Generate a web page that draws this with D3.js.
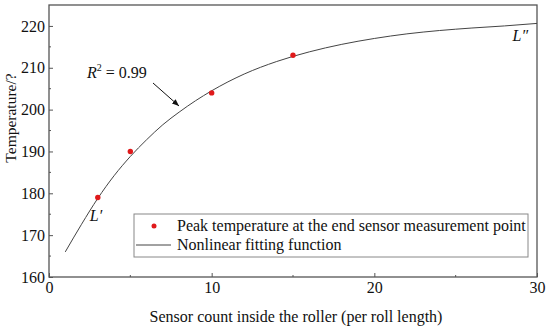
<!DOCTYPE html>
<html>
<head>
<meta charset="utf-8">
<script src="https://cdn.jsdelivr.net/npm/d3@7"></script>
<style>
  body { margin: 0; background: #fff; }
  svg text { font-family: 'Liberation Serif', 'Times New Roman', Times, 'DejaVu Serif', serif !important; fill: #111; }
</style>
</head>
<body>
<div id="chart-area"></div>
<script>
// Data
var sensorCounts = [3, 5, 10, 15];
var peakTemps = [179, 190, 204, 213];

var fitX = [1, 2, 3, 4, 5, 6, 7, 8, 9, 10, 12, 14, 16, 18, 20, 22, 24, 26, 28, 30];
var fitY = [166, 172.6, 178.8, 184.2, 188.8, 192.8, 196.4, 199.4, 202.1, 204.5,
            208.5, 211.5, 213.8, 215.6, 217.0, 218.1, 218.9, 219.5, 220.0, 220.6];

var xTicks = [0, 10, 20, 30];
var yTicks = [160, 170, 180, 190, 200, 210, 220];
var legendLabels = ["Peak temperature at the end sensor measurement point", "Nonlinear fitting function"];

var margin = { left: 49, right: 13, top: 5, bottom: 53 };
var width = 550 - margin.left - margin.right,
    height = 330 - margin.top - margin.bottom;

var svg = d3.select("#chart-area")
    .append("svg")
        .attr("width", 550)
        .attr("height", 330)
        .style("font-family", "'Liberation Serif', serif");
var g = svg.append("g")
        .attr("transform", "translate(" + margin.left + "," + margin.top + ")");

// Scales
var x = d3.scaleLinear().domain([0, 30]).range([0, width]);
var y = d3.scaleLinear().domain([160, 225]).range([height, 0]);

var axisColor = "#555";

// Minor ticks
g.selectAll(".xminor").data([5, 15, 25]).enter().append("line")
    .attr("x1", function(d){ return x(d); }).attr("x2", function(d){ return x(d); })
    .attr("y1", height).attr("y2", height - 2)
    .attr("stroke", axisColor);
g.selectAll(".yminor").data([165, 175, 185, 195, 205, 215]).enter().append("line")
    .attr("y1", function(d){ return y(d); }).attr("y2", function(d){ return y(d); })
    .attr("x1", 0).attr("x2", 2)
    .attr("stroke", axisColor);

// X Axis
var xAxisCall = d3.axisBottom(x).tickValues(xTicks).tickSizeInner(-4).tickSizeOuter(0).tickPadding(5);
var xAxis = g.append("g")
    .attr("transform", "translate(0," + height + ")")
    .call(xAxisCall);
// Y Axis
var yAxisCall = d3.axisLeft(y).tickValues(yTicks).tickSizeInner(-4).tickSizeOuter(0).tickPadding(4);
var yAxis = g.append("g").call(yAxisCall);

[xAxis, yAxis].forEach(function(ax){
    ax.attr("font-family", null);
    ax.select(".domain").remove();
    ax.selectAll("line").attr("stroke", axisColor);
    ax.selectAll("text").attr("font-size", "16px").attr("fill", "#111");
});

// Frame
g.append("rect")
    .attr("width", width).attr("height", height)
    .attr("fill", "none")
    .attr("stroke", axisColor)
    .attr("stroke-width", 1.3);

// Labels
g.append("text")
    .attr("x", width / 2 + 3)
    .attr("y", height + 45)
    .attr("font-size", "16px")
    .attr("text-anchor", "middle")
    .text("Sensor count inside the roller (per roll length)");
g.append("text")
    .attr("transform", "rotate(-90)")
    .attr("x", -(y(198)))
    .attr("y", -33)
    .attr("font-size", "15.5px")
    .attr("text-anchor", "middle")
    .text("Temperature/?");

// Fitting curve
var line = d3.line()
    .x(function(d){ return x(d[0]); })
    .y(function(d){ return y(d[1]); })
    .curve(d3.curveMonotoneX);
g.append("path")
    .datum(d3.zip(fitX, fitY))
    .attr("d", line)
    .attr("fill", "none")
    .attr("stroke", "#444")
    .attr("stroke-width", 1);

// Points
g.selectAll("circle.pt").data(d3.zip(sensorCounts, peakTemps)).enter().append("circle")
    .attr("class", "pt")
    .attr("cx", function(d){ return x(d[0]); })
    .attr("cy", function(d){ return y(d[1]); })
    .attr("r", 2.7)
    .attr("fill", "#e0191b");

// Annotations
var rLabel = g.append("text")
    .attr("x", 38).attr("y", 73)
    .attr("font-size", "16px");
rLabel.append("tspan").attr("font-style", "italic").text("R");
rLabel.append("tspan").attr("font-size", "10px").attr("dy", -7).text("2");
rLabel.append("tspan").attr("dy", 7).text(" = 0.99");

svg.append("defs").append("marker")
    .attr("id", "arrow")
    .attr("viewBox", "0 0 10 10")
    .attr("refX", 10).attr("refY", 5)
    .attr("markerWidth", 7).attr("markerHeight", 7)
    .attr("orient", "auto")
    .append("path")
        .attr("d", "M0,1 L10,5 L0,9 Z")
        .attr("fill", "#111");
g.append("line")
    .attr("x1", 104).attr("y1", 78)
    .attr("x2", 130).attr("y2", 101)
    .attr("stroke", "#111")
    .attr("stroke-width", 1)
    .attr("marker-end", "url(#arrow)");

g.append("text")
    .attr("x", x(3) - 8).attr("y", y(179) + 24)
    .attr("font-size", "16px").attr("font-style", "italic")
    .text("L\u2032");
g.append("text")
    .attr("x", x(28.5)).attr("y", 36)
    .attr("font-size", "16px").attr("font-style", "italic")
    .text("L\u2033");

// Legend
var legend = g.append("g")
    .attr("transform", "translate(" + (134 - margin.left) + "," + (214 - margin.top) + ")");
legend.append("rect")
    .attr("width", 394).attr("height", 43)
    .attr("fill", "#fff")
    .attr("stroke", "#888")
    .attr("stroke-width", 1);
legendLabels.forEach(function(label, i){
    var row = legend.append("g").attr("transform", "translate(0," + (12 + i * 19) + ")");
    if (i === 0) {
        row.append("circle").attr("cx", 20).attr("cy", 0).attr("r", 2.5).attr("fill", "#e0191b");
    } else {
        row.append("line").attr("x1", 2).attr("x2", 37).attr("y1", 0).attr("y2", 0)
            .attr("stroke", "#444").attr("stroke-width", 1);
    }
    row.append("text")
        .attr("x", 43).attr("y", 5)
        .attr("font-size", "16px")
        .text(label);
});
</script>
</body>
</html>
